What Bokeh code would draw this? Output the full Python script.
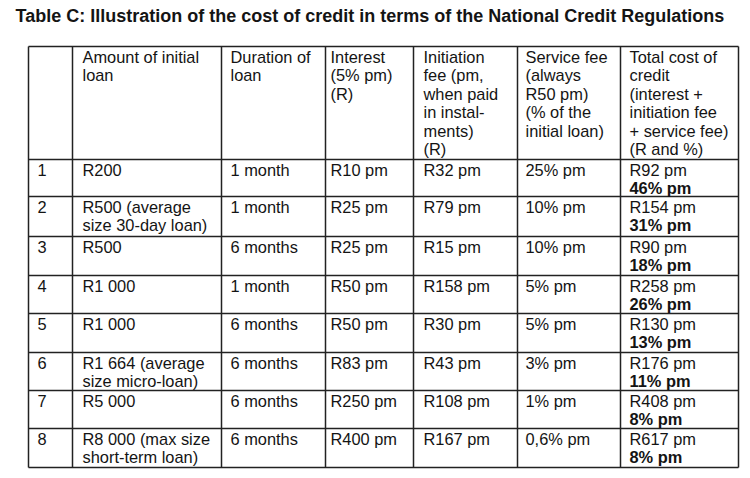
from bokeh.plotting import figure
from bokeh.models import Range1d, ColumnDataSource
from bokeh.core.properties import value
from bokeh.embed import file_html
from bokeh.resources import INLINE

# ---- data ----
title = "Table C: Illustration of the cost of credit in terms of the National Credit Regulations"
headers = ["",
           "Amount of initial\nloan",
           "Duration of\nloan",
           "Interest\n(5% pm)\n(R)",
           "Initiation\nfee (pm,\nwhen paid\nin instal-\nments)\n(R)",
           "Service fee\n(always\nR50 pm)\n(% of the\ninitial loan)",
           "Total cost of\ncredit\n(interest +\ninitiation fee\n+ service fee)\n(R and %)"]
row_nums = ["1", "2", "3", "4", "5", "6", "7", "8"]
amounts = ["R200", "R500 (average\nsize 30-day loan)", "R500", "R1 000", "R1 000",
           "R1 664 (average\nsize micro-loan)", "R5 000", "R8 000 (max size\nshort-term loan)"]
durations = ["1 month", "1 month", "6 months", "1 month", "6 months", "6 months", "6 months", "6 months"]
interest = ["R10 pm", "R25 pm", "R25 pm", "R50 pm", "R50 pm", "R83 pm", "R250 pm", "R400 pm"]
initiation = ["R32 pm", "R79 pm", "R15 pm", "R158 pm", "R30 pm", "R43 pm", "R108 pm", "R167 pm"]
service = ["25% pm", "10% pm", "10% pm", "5% pm", "5% pm", "3% pm", "1% pm", "0,6% pm"]
total_r = ["R92 pm", "R154 pm", "R90 pm", "R258 pm", "R130 pm", "R176 pm", "R408 pm", "R617 pm"]
total_pct = ["46% pm", "31% pm", "18% pm", "26% pm", "13% pm", "11% pm", "8% pm", "8% pm"]

# ---- layout ----
col_edges = [28, 72, 221, 325, 413, 517, 620, 738]
text_x = [37, 82, 230, 330, 423, 525, 629]
row_edges = [46, 159, 196, 236, 275, 313, 352, 390, 428, 467]
base_off = 10
line_h = 18.5
FONT = "Liberation Sans"
FS = "16.4px"
INK = "#141414"
W, H = 750, 478

p = figure(width=W, height=H, output_backend="svg", toolbar_location=None,
           x_range=Range1d(0, W), y_range=Range1d(H, 0),
           min_border=0, outline_line_color=None)
p.axis.visible = False
p.grid.visible = False
p.background_fill_color = "white"
p.border_fill_color = "white"

# grid lines
hx0, hx1, hy = [], [], []
for r in row_edges:
    hx0.append(col_edges[0]); hx1.append(col_edges[-1]); hy.append(r)
p.segment(x0=hx0, y0=hy, x1=hx1, y1=hy, line_color="#222222", line_width=1.5)
vx, vy0, vy1 = [], [], []
for c in col_edges:
    vx.append(c); vy0.append(row_edges[0]); vy1.append(row_edges[-1])
p.segment(x0=vx, y0=vy0, x1=vx, y1=vy1, line_color="#222222", line_width=1.5)

# normal text
xs, ys, ts = [], [], []
def add_cell(txt, ci, top):
    for k, line in enumerate(txt.split("\n")):
        xs.append(text_x[ci]); ys.append(top + base_off + k * line_h); ts.append(line)

for ci, h in enumerate(headers):
    if h:
        add_cell(h, ci, row_edges[0])
columns = [row_nums, amounts, durations, interest, initiation, service, total_r]
for ri in range(len(row_nums)):
    top = row_edges[ri + 1]
    for ci, col in enumerate(columns):
        add_cell(col[ri], ci, top)

src = ColumnDataSource(dict(x=xs, y=ys, t=ts))
p.text(x="x", y="y", text="t", source=src, text_font=value(FONT), text_font_size=FS,
       text_color=INK, text_baseline="alphabetic", text_align="left")

# bold percentages
bx = [text_x[6]] * len(total_pct)
by = [row_edges[i + 1] + base_off + line_h for i in range(len(total_pct))]
p.text(x=bx, y=by, text=total_pct, text_font=value(FONT), text_font_size=FS,
       text_font_style="bold", text_color=INK, text_baseline="alphabetic", text_align="left")

# title
p.text(x=[15], y=[15], text=[title], text_font=value(FONT),
       text_font_size="18px", text_font_style="bold", text_color=INK,
       text_baseline="alphabetic", text_align="left")

open("out.html", "w").write(file_html(p, INLINE))
